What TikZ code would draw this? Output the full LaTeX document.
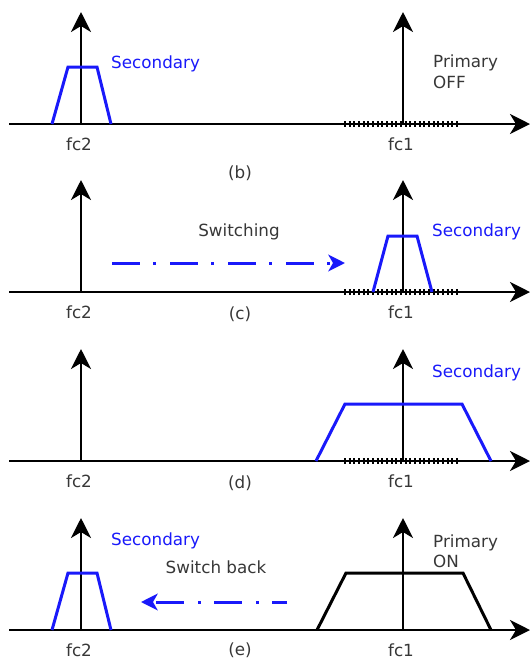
\documentclass[tikz,border=0pt]{standalone}
\usepackage{fontspec}
\setmainfont{DejaVu Sans}
\usetikzlibrary{arrows.meta}

\definecolor{secblue}{RGB}{25,25,250}
\definecolor{lblgray}{RGB}{55,55,55}

\tikzset{
  freqaxis/.style={line width=0.075cm, -{Stealth[length=0.6cm,width=0.6cm,inset=0.18cm]}},
  occupied/.style={line width=0.19cm, dash pattern=on 0.06cm off 0.08cm},
  secband/.style={secblue, line width=0.09cm},
  primband/.style={black, line width=0.09cm},
  switcharrow/.style={secblue, line width=0.09cm,
    dash pattern=on 0.84cm off 0.39cm on 0.09cm off 0.42cm,
    -{Stealth[length=0.5cm,width=0.5cm,inset=0.14cm]}},
  lbl/.style={text=lblgray, font=\fontsize{14.3}{17}\selectfont, inner sep=0pt},
  seclbl/.style={lbl, text=secblue, anchor=base west},
}

\begin{document}
\begin{tikzpicture}[x=0.03cm, y=-0.03cm]
	\useasboundingbox (0,0) rectangle (531,659);
	
	% frequency axes, the two carriers and their labels
	\foreach \p/\ay/\tb in {b/124/178, c/292/319, d/461/488, e/630/655} {
		\draw[freqaxis] (9,\ay) -- (530,\ay);
		\draw[freqaxis] (81,\ay) -- (81,\ay-112);
		\draw[freqaxis] (403,\ay) -- (403,\ay-112);
		\node[lbl, anchor=base] (fctwo\p) at (79,\ay+26) {fc2};
		\node[lbl, anchor=base] (fcone\p) at (401,\ay+26) {fc1};
		\node[lbl, anchor=base] (tag\p) at (240,\tb) {(\p)};
	}
	
	% band of the primary, left free
	\draw[occupied] (344,124) -- (458,124);
	\draw[occupied] (344,292) -- (458,292);
	\draw[occupied] (344,461) -- (458,461);
	
	% (b) secondary at fc2, primary off
	\draw[secband] (52,124) -- (68,67) -- (97,67) -- (111,124);
	\node[seclbl] (secb) at (111,68) {Secondary};
	\node[lbl, anchor=base west] (primb) at (433,67) {Primary};
	\node[lbl, anchor=base west] (offb) at (433,88) {OFF};
	
	% (c) secondary moves to fc1
	\draw[secband] (373,292) -- (388,236) -- (417,236) -- (432,292);
	\node[seclbl] (secc) at (432,236) {Secondary};
	\node[lbl, anchor=base] (switching) at (239,236) {Switching};
	\draw[switcharrow] (112,263) -- (345,263);
	
	% (d) secondary widens at fc1
	\draw[secband] (316,461) -- (345,404) -- (462,404) -- (491,461);
	\node[seclbl] (secd) at (432,377) {Secondary};
	
	% (e) primary on again, secondary back to fc2
	\draw[secband] (52,630) -- (68,573) -- (97,573) -- (111,630);
	\draw[primband] (317,630) -- (346,573) -- (463,573) -- (491,630);
	\node[seclbl] (sece) at (111,545) {Secondary};
	\node[lbl, anchor=base west] (prime) at (433,547) {Primary};
	\node[lbl, anchor=base west] (one) at (433,567) {ON};
	\node[lbl, anchor=base] (switchback) at (216,573) {Switch back};
	\draw[switcharrow, dash phase=0.39cm] (287,602) -- (141,602);
	
\end{tikzpicture}
\end{document}
